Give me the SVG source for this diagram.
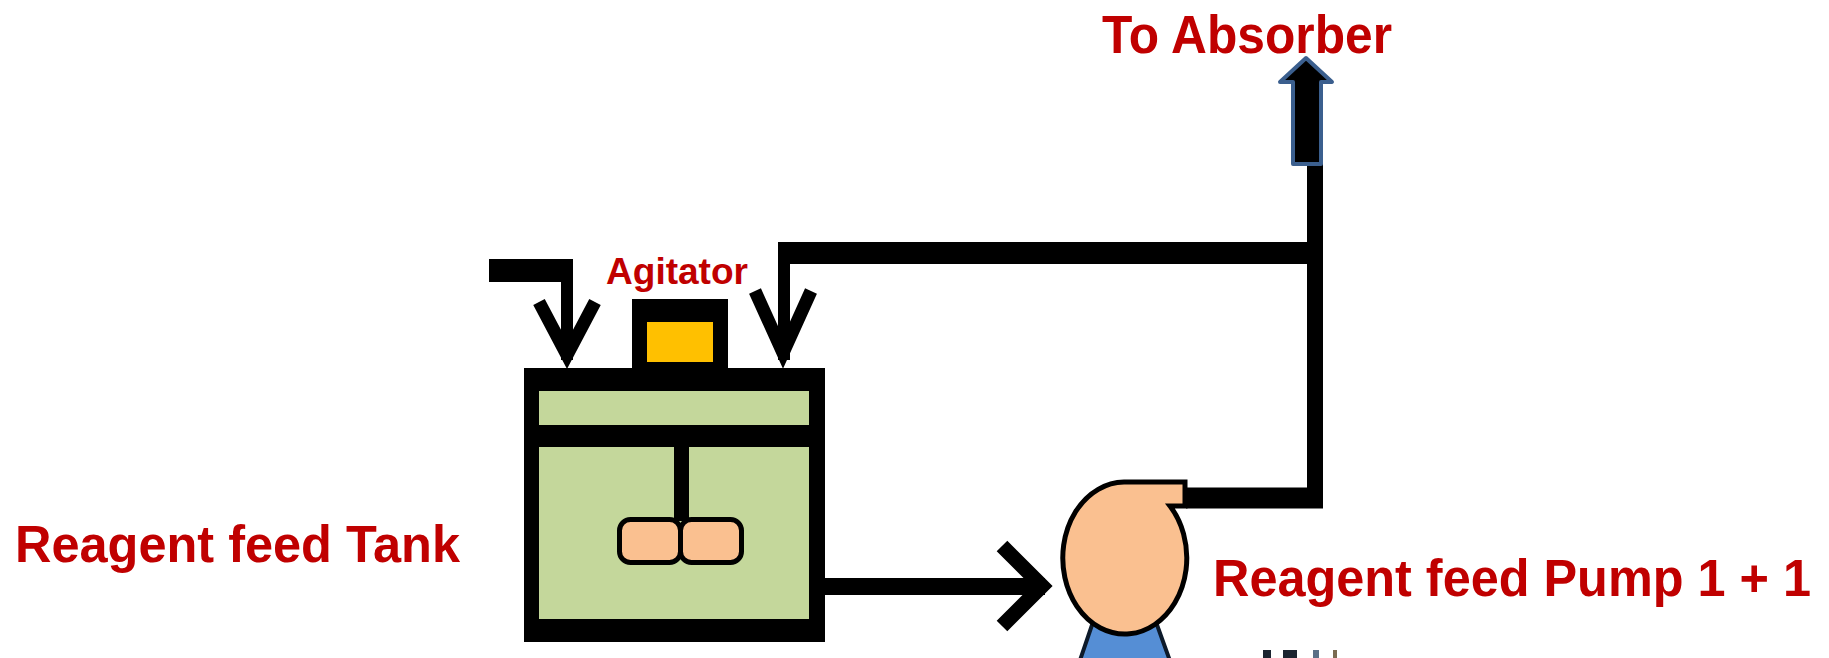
<svg xmlns="http://www.w3.org/2000/svg" width="1829" height="658" viewBox="0 0 1829 658">
  <style>
    .label { font-family: "Liberation Sans", Arial, sans-serif; font-weight: 700; fill: #C00000; }
    .pipe { fill: none; stroke: #000; stroke-linecap: butt; }
    .chev { fill: none; stroke: #000; stroke-linejoin: miter; stroke-miterlimit: 10; }
    .green { fill: #C4D79B; }
    .peach { fill: #FAC090; stroke: #000; }
  </style>

  <rect width="1829" height="658" fill="#fff"/>

  <!-- process lines -->
  <g id="connectors">
    <!-- fresh reagent inlet on the left -->
    <path class="pipe" d="M489,270.5 H573" stroke-width="23"/>
    <path class="pipe" d="M567,259 V360" stroke-width="12"/>
    <polyline class="chev" points="539,302 567,355 595,302" stroke-width="13"/>

    <!-- recycle line from the pump discharge back into the tank -->
    <path class="pipe" d="M778,253 H1323" stroke-width="22"/>
    <path class="pipe" d="M784,242 V360" stroke-width="12"/>
    <polyline class="chev" points="755,291 783,353 811,291" stroke-width="13"/>

    <!-- discharge riser -->
    <path class="pipe" d="M1315,163 V508" stroke-width="16"/>
    <path class="pipe" d="M1186,498 H1323" stroke-width="21"/>

    <!-- tank outlet to pump suction -->
    <path class="pipe" d="M825,586.5 H1045" stroke-width="17"/>
    <polyline class="chev" points="1002,546 1042,586 1002,626" stroke-width="15"/>

    <!-- outlet to absorber -->
    <path d="M1306,58 L1332,82 H1321 V164 H1293 V82 H1280 Z" fill="#000" stroke="#3B5F8E" stroke-width="4" stroke-linejoin="round"/>
  </g>

  <!-- reagent feed tank with agitator -->
  <g id="tank">
    <rect x="524" y="368" width="301" height="274" fill="#000"/>
    <rect class="green" x="539" y="391" width="270" height="34"/>
    <rect class="green" x="539" y="447" width="270" height="172"/>
  </g>

  <g id="agitator">
    <rect x="632" y="299" width="96" height="70" fill="#000"/>
    <rect x="647" y="322" width="66" height="40" fill="#FFC000"/>
    <rect x="674" y="446" width="15" height="75" fill="#000"/>
    <rect class="peach" x="619.5" y="519.5" width="61" height="43" rx="11" stroke-width="5"/>
    <rect class="peach" x="680.5" y="519.5" width="61" height="43" rx="11" stroke-width="5"/>
  </g>

  <!-- reagent feed pump -->
  <g id="pump">
    <path d="M1093,622 H1156 L1174,672 H1076 Z" fill="#558ED5" stroke="#0D1A2A" stroke-width="4"/>
    <path class="peach" d="M1124,482 H1185 V506 H1170 A62,76 0 1 1 1124,482 Z" stroke-width="5" stroke-linejoin="miter"/>
  </g>

  <!-- partly visible marks at the lower edge -->
  <g id="edge-marks" fill="#1B2430">
    <rect x="1263" y="650" width="8" height="8"/>
    <rect x="1283" y="650" width="14" height="8"/>
    <rect x="1313" y="650" width="6" height="8" fill="#5A6F86"/>
    <rect x="1333" y="650" width="4" height="8" fill="#7A6A50"/>
  </g>

  <!-- labels -->
  <g id="labels">
    <text class="label" x="1102" y="53" font-size="53" textLength="290" lengthAdjust="spacingAndGlyphs">To Absorber</text>
    <text class="label" x="606" y="284" font-size="36" textLength="142" lengthAdjust="spacingAndGlyphs">Agitator</text>
    <text class="label" x="15" y="562" font-size="52" textLength="445" lengthAdjust="spacingAndGlyphs">Reagent feed Tank</text>
    <text class="label" x="1213" y="596" font-size="51" textLength="598" lengthAdjust="spacingAndGlyphs">Reagent feed Pump 1 + 1</text>
  </g>
</svg>
